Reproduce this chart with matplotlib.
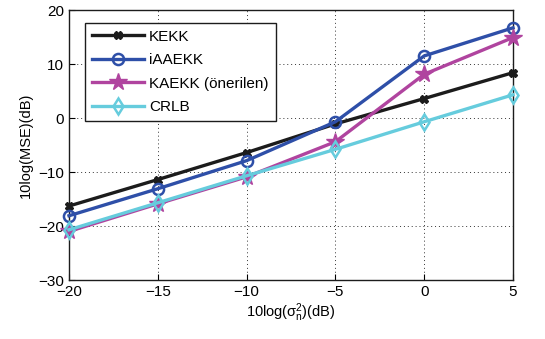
import numpy as np
import matplotlib
matplotlib.use("Agg")
import matplotlib.pyplot as plt

plt.rcParams['font.family'] = ['Liberation Sans', 'DejaVu Sans']

noise_db = [-20, -15, -10, -5, 0, 5]
kekk = [-16.3, -11.4, -6.4, -1.1, 3.6, 8.4]
iaaekk = [-18.1, -13.1, -7.9, -0.7, 11.5, 16.7]
kaekk = [-21.0, -15.9, -10.9, -4.4, 8.1, 14.9]
crlb = [-20.7, -15.7, -10.7, -5.8, -0.7, 4.3]

labels = ["KEKK", "iAAEKK", "KAEKK (önerilen)", "CRLB"]

fig = plt.figure(figsize=(5.45, 3.39), dpi=100)
ax = fig.add_axes([69 / 545, 1 - 280 / 339, (513 - 69) / 545, (280 - 10) / 339])

ax.plot(noise_db, kekk, color="#1c1c1c", lw=2.4, marker="X", ms=6,
        label=labels[0], clip_on=False, zorder=3)
ax.plot(noise_db, iaaekk, color="#2e4fa8", lw=2.4, marker="o", ms=8,
        mfc="none", mew=1.8, label=labels[1], clip_on=False, zorder=3)
ax.plot(noise_db, kaekk, color="#b0449f", lw=2.4, marker="*", ms=13,
        label=labels[2], clip_on=False, zorder=3)
ax.plot(noise_db, crlb, color="#66ccdd", lw=2.4, marker="d", ms=8,
        mfc="none", mew=1.8, label=labels[3], clip_on=False, zorder=3)

ax.set_xlim(-20, 5)
ax.set_ylim(-30, 20)
ax.set_xticks(noise_db)
ax.set_yticks([-30, -20, -10, 0, 10, 20])
ax.set_xticklabels(["\u221220", "\u221215", "\u221210", "\u22125", "0", "5"])
ax.set_yticklabels(["\u221230", "\u221220", "\u221210", "0", "10", "20"])
ax.tick_params(direction="in", labelsize=11, length=4, width=0.8)
ax.grid(True, color="#333333", linestyle=(0, (1, 3)), linewidth=0.7)
for s in ax.spines.values():
    s.set_linewidth(1.0)
    s.set_color("#1c1c1c")

ax.set_xlabel(r"10log($\mathregular{\sigma_n^2}$)(dB)", fontsize=10.5, labelpad=2)
ax.set_ylabel("10log(MSE)(dB)", fontsize=10.5, labelpad=4)

leg = ax.legend(loc="upper left", bbox_to_anchor=(0.036, 0.952), fontsize=11,
                fancybox=False, framealpha=1, edgecolor="#1c1c1c",
                handlelength=3.4, borderpad=0.45, labelspacing=0.62,
                handletextpad=0.35, borderaxespad=0)
leg.get_frame().set_linewidth(1.0)

fig.savefig("out.png", dpi=100)
